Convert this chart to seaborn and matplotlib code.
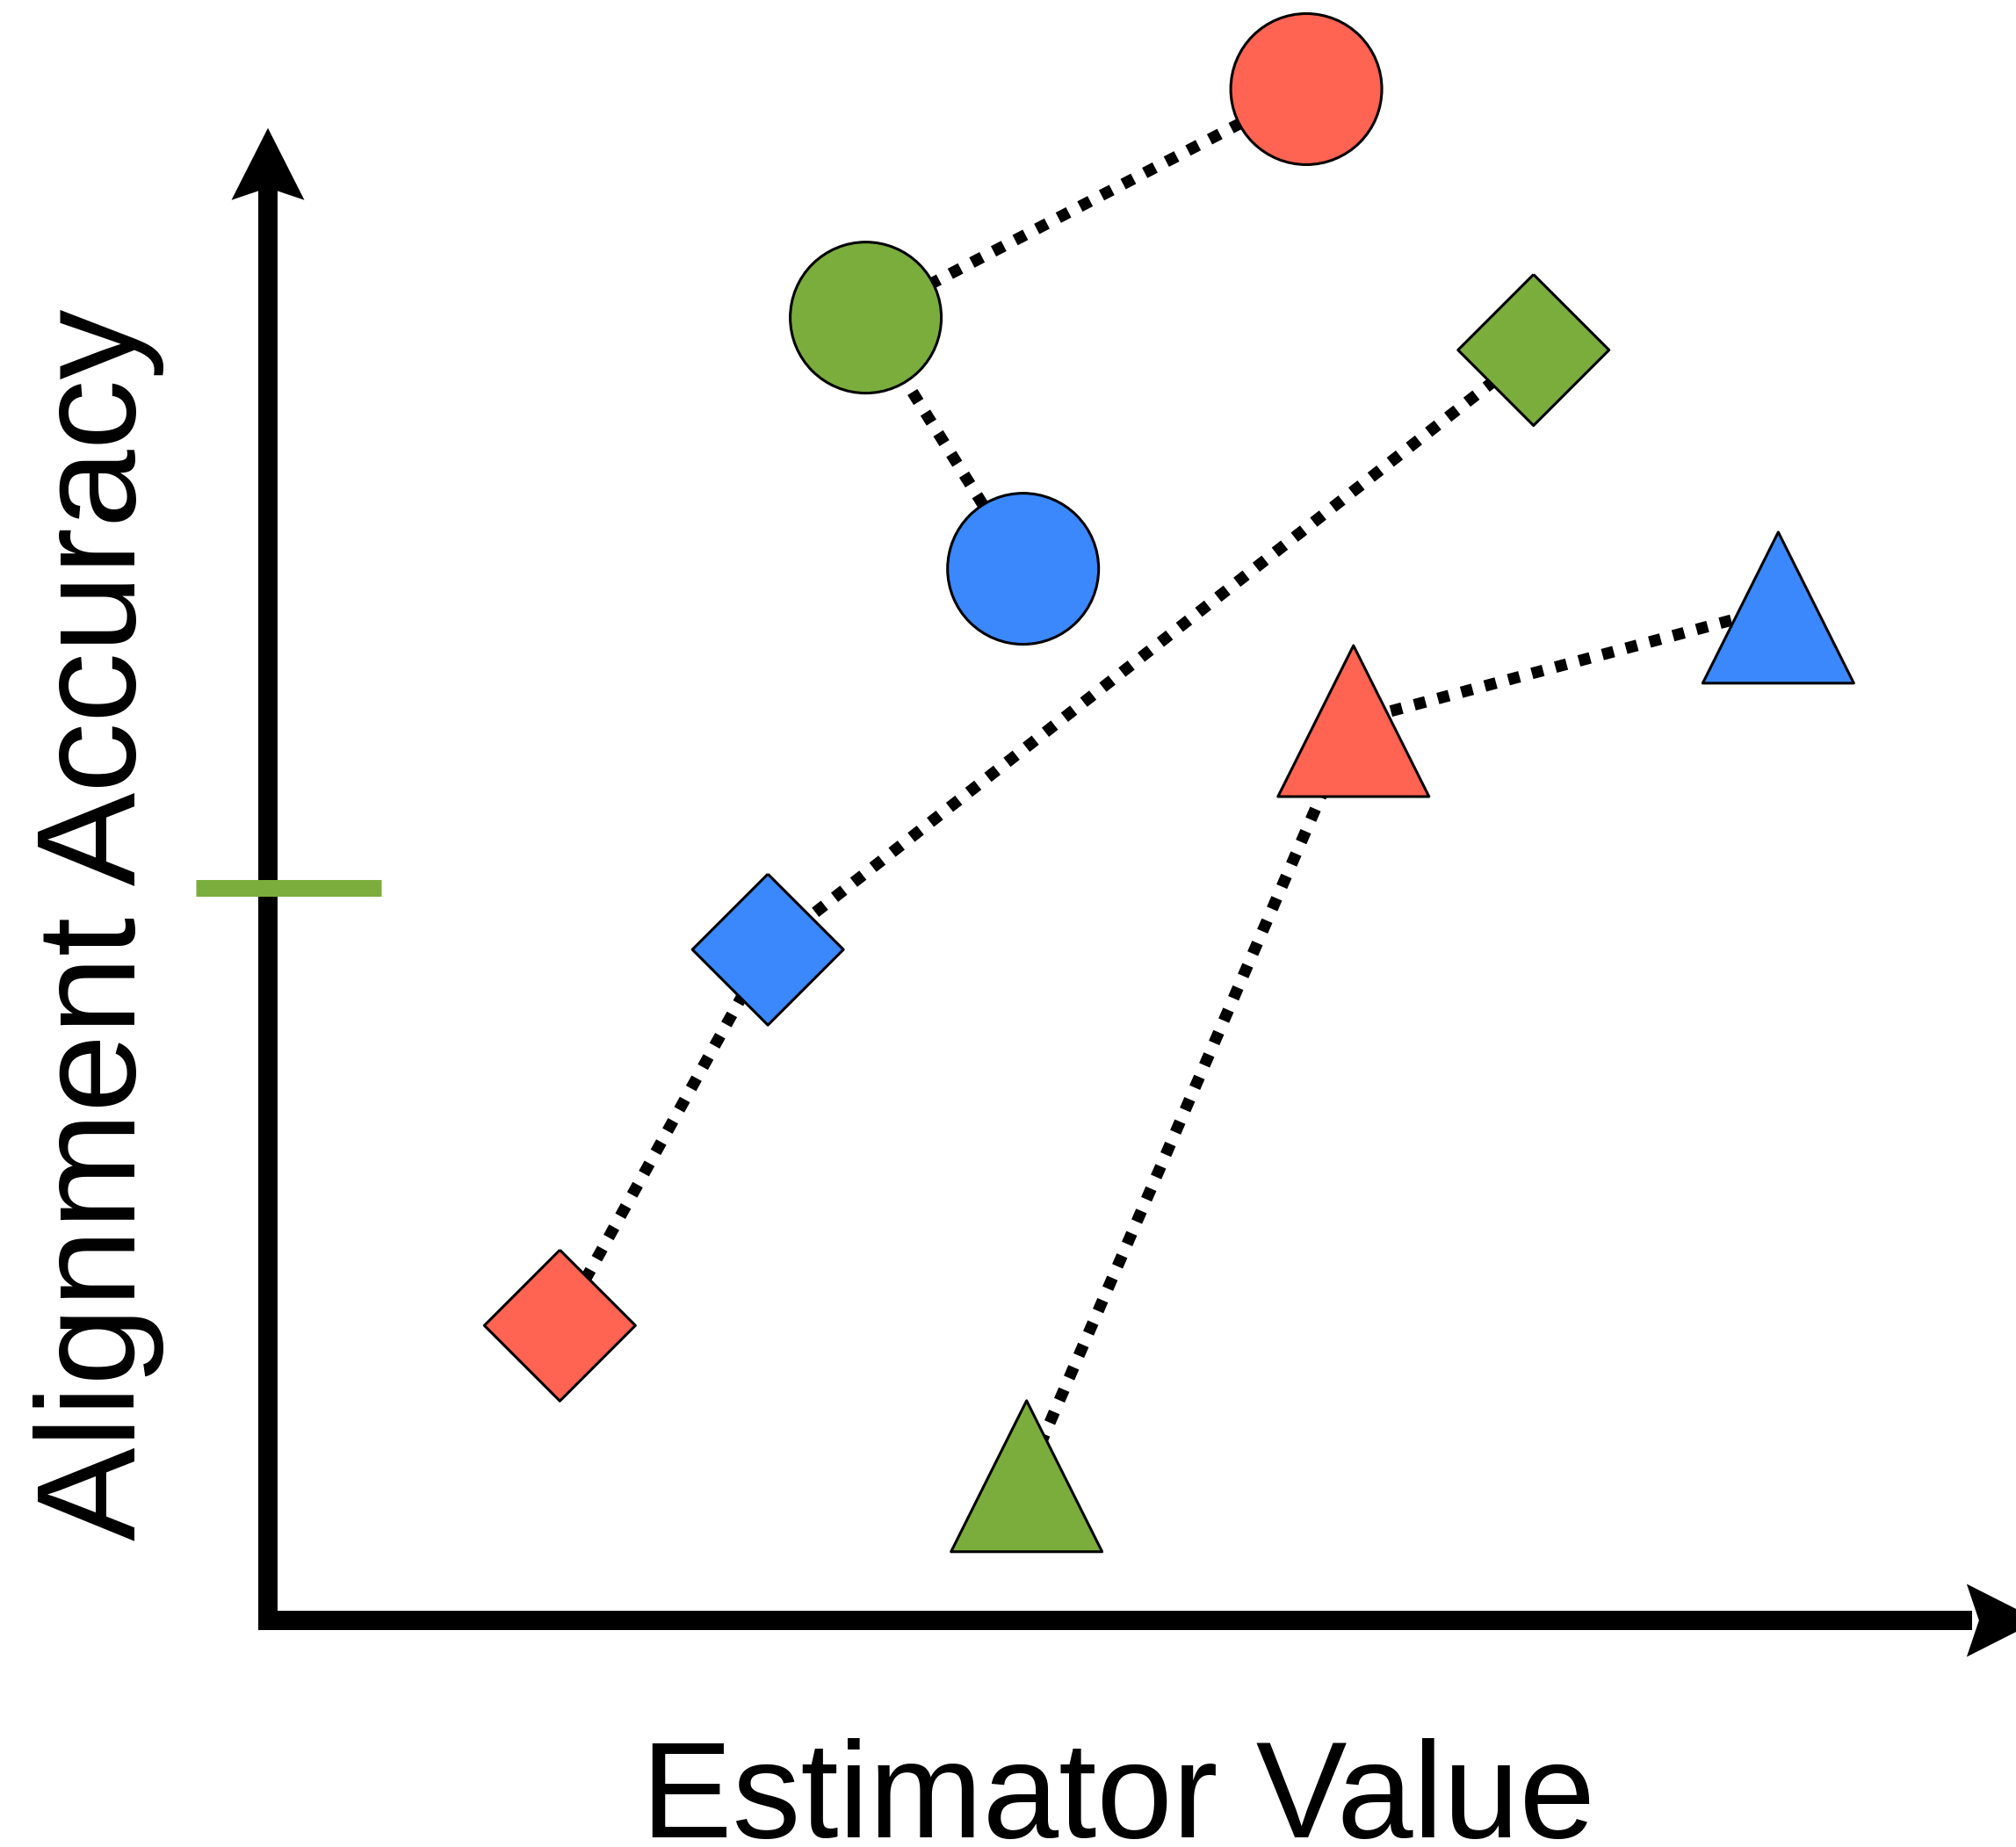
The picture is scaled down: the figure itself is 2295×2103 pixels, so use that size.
import numpy as np
import pandas as pd
import matplotlib
matplotlib.use("Agg")
import matplotlib.pyplot as plt
import seaborn as sns
from matplotlib.patches import Polygon
from matplotlib.transforms import Affine2D, ScaledTranslation

# Points: each shape family is joined in the listed order by a dotted path
family = ["circle", "circle", "circle",
          "diamond", "diamond", "diamond",
          "triangle", "triangle", "triangle"]
method = ["red", "green", "blue",
          "green", "blue", "red",
          "blue", "red", "green"]
estimator_value = [5.94, 3.42, 4.32,
                   7.24, 2.86, 1.67,
                   8.64, 6.21, 4.34]
alignment_accuracy = [9.45, 8.04, 6.49,
                      7.84, 4.14, 1.82,
                      6.25, 5.55, 0.89]

# Threshold mark on the accuracy axis
threshold_accuracy = 4.52
threshold_span = [-0.41, 0.65]

palette = {"red": "#FF6352", "green": "#7BAD3D", "blue": "#3A88FB"}
marker_map = {
    "circle": "o",
    "diamond": [(0, 1), (1, 0), (0, -1), (-1, 0), (0, 1)],
    "triangle": "^",
}

sns.set_theme(style="white")
plt.rcParams["font.family"] = ["Liberation Sans", "DejaVu Sans"]

W, H, DPI = 2295, 2103, 100
fig = plt.figure(figsize=(W / DPI, H / DPI), dpi=DPI)
ax = fig.add_axes([305 / W, (H - 1845) / H, (W - 305) / W, 1845 / H])
ax.set_xlim(0, 10)
ax.set_ylim(0, 10)
ax.axis("off")

df = pd.DataFrame({
    "family": family,
    "method": method,
    "value": estimator_value,
    "accuracy": alignment_accuracy,
})

# Dotted connectors between points of the same family
sns.lineplot(data=df, x="value", y="accuracy", units="family",
             estimator=None, sort=False, color="black", lw=9.5,
             linestyle=(0, (1, 1.1)), ax=ax, zorder=1, legend=False)

# Markers
sns.scatterplot(data=df, x="value", y="accuracy", hue="method",
                style="family", palette=palette, markers=marker_map,
                s=15330, edgecolor="black", linewidth=2.2, ax=ax,
                zorder=3, legend=False, clip_on=False)

# Hand-drawn style axes: an L with notched arrowheads
y_tip = 9.21
x_tip = 10.13
ax.plot([0, 0, 9.75], [8.85, 0, 0], color="black", lw=15.8,
        solid_joinstyle="miter", solid_capstyle="butt",
        clip_on=False, zorder=2)

head_up = [(0, 0), (-41.5, -82), (0, -68), (41.5, -82)]
head_right = [(0, 0), (-82, 41.5), (-68, 0), (-82, -41.5)]
for verts, (tx, ty) in [(head_up, (0, y_tip)), (head_right, (x_tip, 0))]:
    tr = Affine2D() + ScaledTranslation(tx, ty, ax.transData)
    ax.add_patch(Polygon(verts, closed=True, facecolor="black",
                         edgecolor="none", transform=tr, clip_on=False,
                         zorder=2))

ax.plot(threshold_span, [threshold_accuracy, threshold_accuracy],
        color=palette["green"], lw=13.7, solid_capstyle="butt",
        clip_on=False, zorder=4)

fig.text(1273 / W, (H - 2092) / H, "Estimator Value", ha="center",
         va="baseline", fontsize=112, color="black")
fig.text(154 / W, (H - 1053) / H, "Alignment Accuracy", rotation=90,
         rotation_mode="anchor", ha="center", va="baseline",
         fontsize=115, color="black")

fig.savefig("out.png", dpi=DPI, facecolor="white")
